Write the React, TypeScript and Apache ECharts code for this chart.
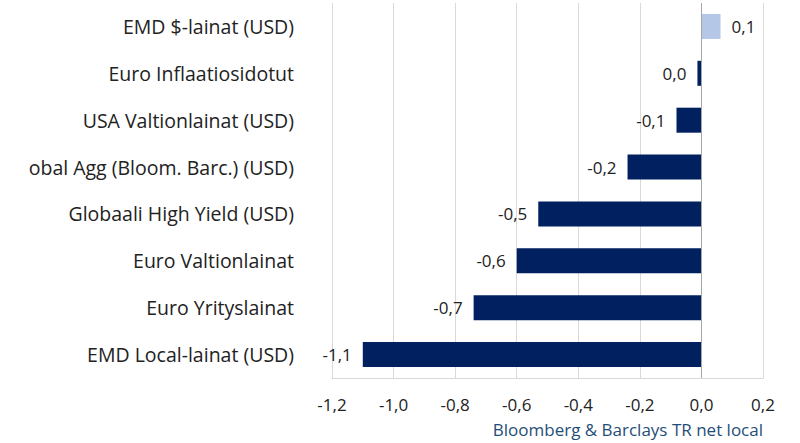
import React, { useEffect, useRef } from "react";
import * as echarts from "echarts";

const categories = [
  "EMD $-lainat (USD)",
  "Euro Inflaatiosidotut",
  "USA Valtionlainat (USD)",
  "obal Agg (Bloom. Barc.) (USD)",
  "Globaali High Yield (USD)",
  "Euro Valtionlainat",
  "Euro Yrityslainat",
  "EMD Local-lainat (USD)",
];
const values = [0.062, -0.013, -0.081, -0.24, -0.53, -0.6, -0.74, -1.1];
const highlightIndex = 0;
const sourceText = "Bloomberg & Barclays TR net local";

const NAVY = "#002060";
const LIGHT = "#b4c7e7";
const FONT = "Open Sans";

const fmt = (v: number) => {
  const s = v.toFixed(1);
  const t = s === "-0.0" ? "0.0" : s;
  return t.replace(".", ",");
};

export default function App() {
  const ref = useRef<HTMLDivElement>(null);
  useEffect(() => {
    if (!ref.current) return;
    const chart = echarts.init(ref.current, null, { renderer: "svg" });
    chart.setOption({
      animation: false,
      textStyle: { fontFamily: FONT },
      grid: { left: 332, right: 37, top: 3, bottom: 65, containLabel: false },
      xAxis: {
        type: "value",
        min: -1.2,
        max: 0.2,
        interval: 0.2,
        axisLine: { show: true, lineStyle: { color: "#d9d9d9", width: 1 } },
        axisTick: { show: false },
        splitLine: { show: true, lineStyle: { color: "#d9d9d9", width: 1 } },
        axisLabel: {
          color: "#222",
          fontSize: 17,
          fontFamily: FONT,
          margin: 18,
          formatter: (v: number) => fmt(v),
        },
      },
      yAxis: {
        type: "category",
        data: categories,
        inverse: true,
        axisLine: { show: false },
        axisTick: { show: false },
        axisLabel: { color: "#222", fontSize: 19.5, fontFamily: FONT, margin: 38 },
      },
      series: [
        {
          type: "bar",
          data: values.map((v, i) => ({
            value: v,
            itemStyle: { color: i === highlightIndex ? LIGHT : NAVY },
            label: { position: v >= 0 ? "right" : "left" },
          })),
          barWidth: 25,
          label: {
            show: true,
            color: "#222",
            fontSize: 17,
            fontFamily: FONT,
            distance: 11,
            formatter: (p: any) => fmt(p.value),
          },
          markLine: {
            silent: true,
            symbol: "none",
            label: { show: false },
            lineStyle: { color: "#a6a6a6", type: "solid", width: 1 },
            data: [{ xAxis: 0 }],
          },
        },
      ],
      graphic: [
        {
          type: "text",
          right: 37,
          top: 421,
          style: {
            text: sourceText,
            fill: "#1f4e79",
            fontSize: 17,
            fontFamily: FONT,
          },
        },
      ],
    });
    return () => chart.dispose();
  }, []);
  return <div ref={ref} style={{ width: 800, height: 443, position: "absolute", left: 0, top: 0 }} />;
}
